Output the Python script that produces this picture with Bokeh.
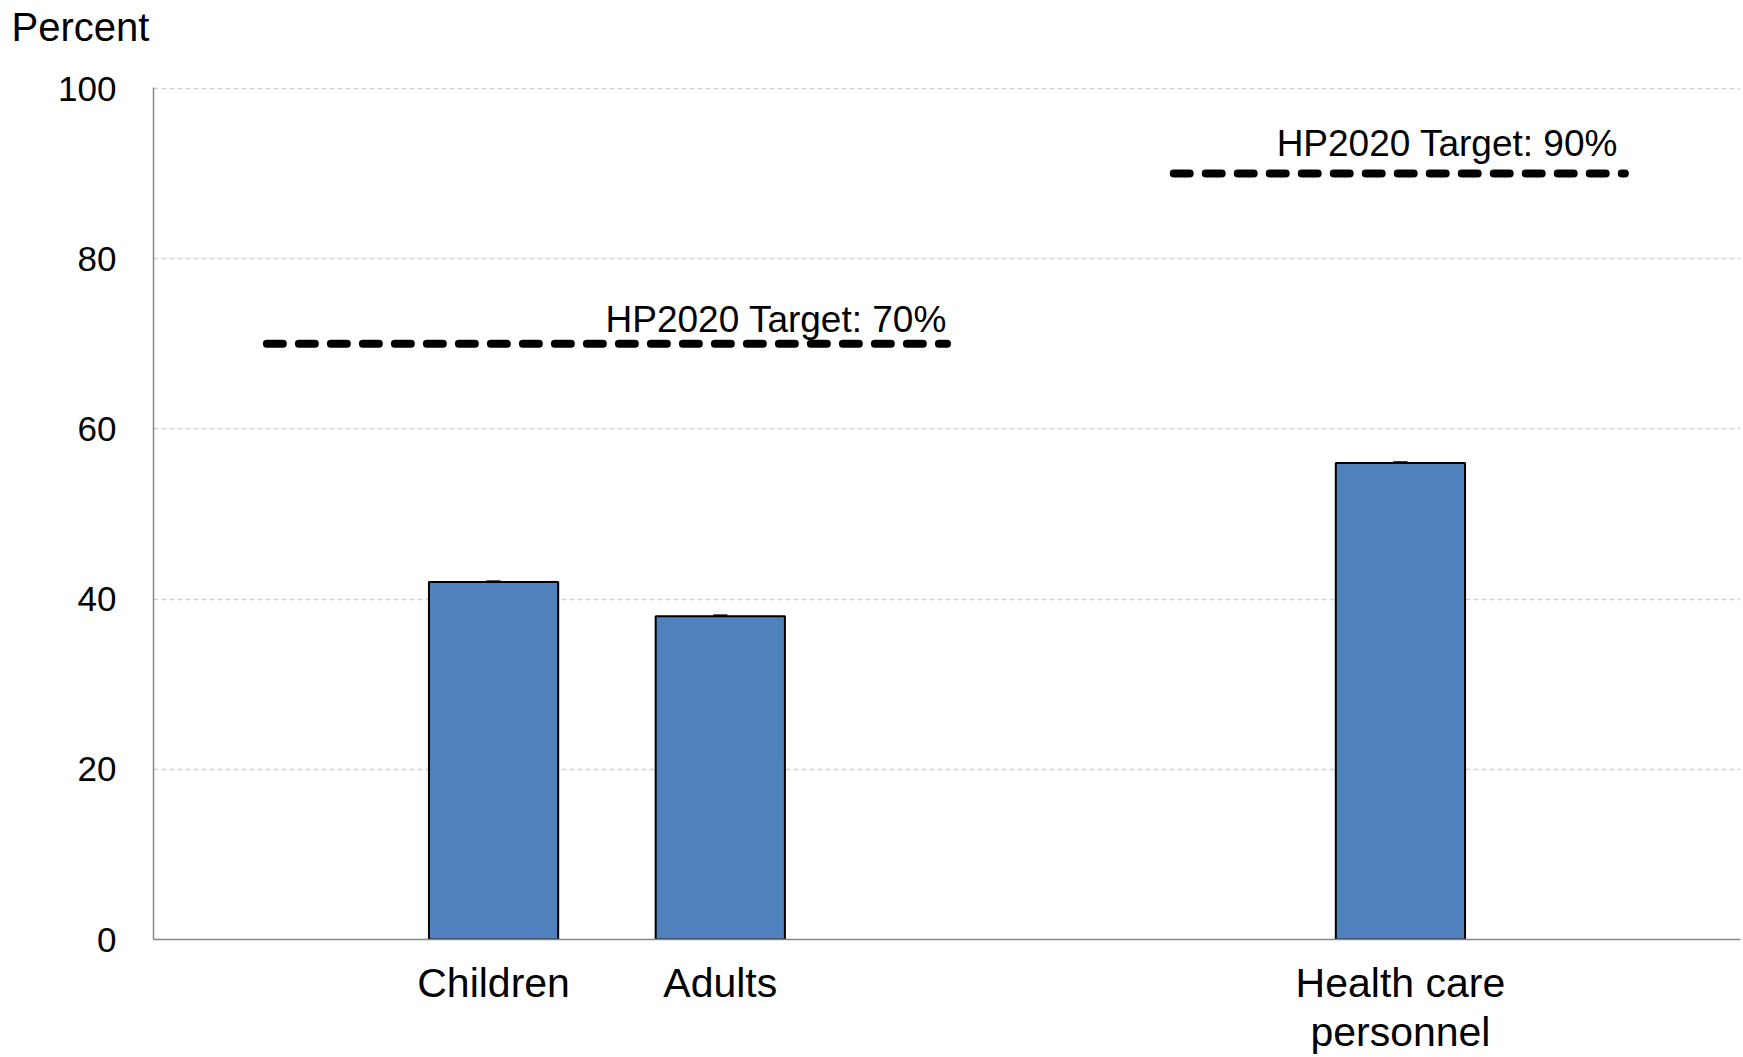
from bokeh.plotting import figure
from bokeh.models import (ColumnDataSource, FixedTicker, Range1d, Whisker, TeeHead,
                          LabelSet, LinearAxis, Title)
from bokeh.core.properties import value
from bokeh.embed import file_html
from bokeh.resources import INLINE

# Vaccination coverage by group
categories = ["Children", "Adults", "Health care\npersonnel"]
coverage = [42.0, 38.0, 56.0]

# Healthy People 2020 targets
target_labels = ["HP2020 Target: 70%", "HP2020 Target: 90%"]
target_values = [70, 90]

y_ticks = [0, 20, 40, 60, 80, 100]

# Category slots along the x axis (blank slots separate the groups)
slot_pos = [1.5, 2.5, 5.5]
target_x0 = [0.5, 4.5]
target_x1 = [3.5, 6.49]
caption_x = [3.5, 6.46]
caption_dy = [12, 18]

FONT = "Liberation Sans"

p = figure(width=1743, height=1057, output_backend="svg", toolbar_location=None,
           title=None, x_range=Range1d(0, 7), y_range=Range1d(0, 100.12),
           min_border_left=153, min_border_right=3, min_border_top=87,
           min_border_bottom=118)
p.outline_line_color = None
p.background_fill_color = "white"

src = ColumnDataSource(dict(x=slot_pos, top=coverage))
p.vbar(x="x", top="top", bottom=0, width=0.57, source=src,
       fill_color="#4f81bd", line_color="black", line_width=2)

# zero-width error caps at the top of each bar
p.add_layout(Whisker(base="x", upper="top", lower="top", source=src,
                     line_color="black", line_width=2,
                     upper_head=TeeHead(size=14, line_width=3, line_color="black"),
                     lower_head=TeeHead(size=14, line_width=3, line_color="black")))

# target lines with their captions
tsrc = ColumnDataSource(dict(x0=target_x0, x1=target_x1, y=target_values,
                             label=target_labels, lx=caption_x, dy=caption_dy))
p.segment(x0="x0", y0="y", x1="x1", y1="y", source=tsrc, line_color="black",
          line_width=8, line_dash="16 16", line_cap="round")
p.add_layout(LabelSet(x="lx", y="y", text="label", source=tsrc, text_align="right",
                      text_baseline="alphabetic", y_offset="dy",
                      text_font=value(FONT), text_font_size="37px",
                      text_color="black"))

# category names: first text line on the main x axis, second line on a
# label-only axis stacked beneath it
line1 = [c.split("\n")[0] for c in categories]
line2 = [c.split("\n")[1] if "\n" in c else "" for c in categories]

p.xaxis.ticker = FixedTicker(ticks=slot_pos)
p.xaxis.major_label_overrides = {x: t for x, t in zip(slot_pos, line1)}
p.xaxis.axis_line_color = "#888888"
p.xaxis.axis_line_width = 1.5

x2 = LinearAxis(ticker=FixedTicker(ticks=slot_pos),
                major_label_overrides={x: t for x, t in zip(slot_pos, line2)})
x2.axis_line_color = None
p.add_layout(x2, "below")

for ax, standoff in ((p.xaxis[0], 20), (x2, 0)):
    ax.major_label_text_font = FONT
    ax.major_label_text_font_size = "41px"
    ax.major_label_text_color = "black"
    ax.major_label_text_line_height = 1.0
    ax.major_label_standoff = standoff
    ax.major_tick_line_color = None
    ax.major_tick_in = 0
    ax.major_tick_out = 0
    ax.minor_tick_line_color = None

p.yaxis.ticker = FixedTicker(ticks=y_ticks)
p.yaxis.major_label_text_font = FONT
p.yaxis.major_label_text_font_size = "35px"
p.yaxis.major_label_text_color = "black"
p.yaxis.major_label_standoff = 31
p.yaxis.major_tick_line_color = None
p.yaxis.minor_tick_line_color = None
p.yaxis.axis_line_color = "#888888"
p.yaxis.axis_line_width = 1.5

p.xgrid.grid_line_color = None
p.ygrid.grid_line_color = "#d4d4d4"
p.ygrid.grid_line_dash = "5 3"
p.ygrid.grid_line_width = 1.5

# blank spacer between the plot area and the unit caption
p.add_layout(Title(text=" ", text_font=FONT, text_font_size="10px",
                   text_line_height=1.0, standoff=26), "above")

# axis unit caption in the top-left corner
p.add_layout(Title(text="Percent", text_font=FONT, text_font_size="40px",
                   text_font_style="normal", text_color="black",
                   text_line_height=1.0, vertical_align="bottom",
                   align="left", offset=-142, standoff=0), "above")

open("out.html", "w").write(file_html(p, INLINE))
